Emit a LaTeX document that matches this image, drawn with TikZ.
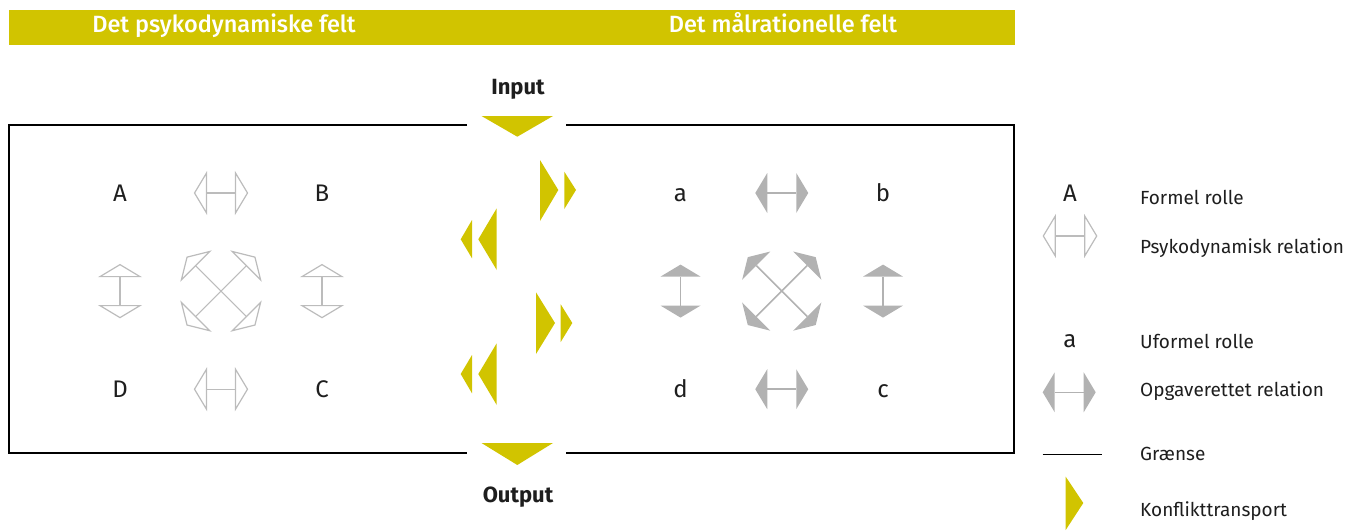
\documentclass[tikz,border=0pt]{standalone}
\usepackage{fontspec}
\setmainfont{Fira Sans}
\newfontfamily\headfont{Fira Sans Medium}
\usetikzlibrary{calc}
\definecolor{kyellow}{RGB}{209,196,0}
\definecolor{lgray}{RGB}{188,188,188}
\definecolor{fgray}{RGB}{178,178,178}
\definecolor{txt}{RGB}{30,30,30}
\tikzset{
  psy/.style={draw=lgray,line width=1.2pt,line join=miter},
  taskline/.style={draw=fgray,line width=1.6pt},
  role/.style={font=\fontsize{24}{28}\selectfont,text=txt,text height=17pt,text depth=0pt,inner sep=0pt},
  legtext/.style={font=\fontsize{19}{23}\selectfont,text=txt,anchor=base west,inner sep=0pt},
  head/.style={font=\headfont\fontsize{23.5}{27}\selectfont,text=white,anchor=base,inner sep=0pt},
  io/.style={font=\bfseries\fontsize{22}{26}\selectfont,text=txt,anchor=base,inner sep=0pt},
  border/.style={draw=black,line width=1.1pt},
  conflict/.style={fill=kyellow}
}
\newcommand{\psyarr}[3]{%
  \begin{scope}[shift={#1},rotate=#2]
    \draw[psy] (-#3+12,0) -- (#3-12,0);
    \draw[psy] (-#3+12,-20) -- (-#3,0) -- (-#3+12,20) -- cycle;
    \draw[psy] (#3-12,-20) -- (#3,0) -- (#3-12,20) -- cycle;
  \end{scope}}
\newcommand{\taskarr}[3]{%
  \begin{scope}[shift={#1},rotate=#2]
    \draw[taskline] (-#3+12,0) -- (#3-12,0);
    \fill[fgray] (-#3+12,-20) -- (-#3,0) -- (-#3+12,20) -- cycle;
    \fill[fgray] (#3-12,-20) -- (#3,0) -- (#3-12,20) -- cycle;
  \end{scope}}
\begin{document}
\begin{tikzpicture}[x=1pt,y=-1pt]
\useasboundingbox (0,0) rectangle (1357,530);
% header bar
\fill[kyellow] (9,10) rectangle (1015,45);
\node[head] (h1) at (224,32.7) {Det psykodynamiske felt};
\node[head] (h2) at (783,32.7) {Det målrationelle felt};
% boundary
\draw[border] (467,125) -- (9,125) -- (9,453) -- (467,453);
\draw[border] (566,125) -- (1014,125) -- (1014,453) -- (566,453);
% input/output
\node[io] (in) at (518,94.3) {Input};
\node[io] (out) at (518,502.5) {Output};
\fill[kyellow] (481.5,116) -- (553,116) -- (517.3,136.7) -- cycle;
\fill[kyellow] (481.5,443) -- (553,443) -- (517.3,465) -- cycle;
% conflict transport
\fill[conflict] (540,160) -- (558.3,190) -- (540,221) -- cycle;
\fill[conflict] (564.3,171.7) -- (576,190) -- (564.3,209) -- cycle;
\fill[conflict] (472,220) -- (460.7,239.3) -- (472,258.3) -- cycle;
\fill[conflict] (496.7,208.3) -- (478.3,239.3) -- (496.7,270) -- cycle;
\fill[conflict] (536,292.3) -- (555,323) -- (536,354) -- cycle;
\fill[conflict] (560.7,304.3) -- (572.3,323) -- (560.7,342) -- cycle;
\fill[conflict] (472,355) -- (460.7,374) -- (472,393.3) -- cycle;
\fill[conflict] (496.7,343.3) -- (478.3,374) -- (496.7,405) -- cycle;
% psychodynamic field
\node[role] (A) at (120,193) {A};
\node[role] (B) at (322,193) {B};
\node[role] (D) at (120,389.2) {D};
\node[role] (C) at (322,389.2) {C};
\psyarr{($(A)!0.5!(B)$)}{0}{26.5}
\psyarr{($(D)!0.5!(C)$)}{0}{26.5}
\psyarr{($(A)!0.5!(D)$)}{90}{26.5}
\psyarr{($(B)!0.5!(C)$)}{90}{26.5}
\psyarr{($(A)!0.5!(C)$)}{45}{48}
\psyarr{($(A)!0.5!(C)$)}{-45}{48}
% goal-rational field
\node[role] (a) at (680.5,193) {a};
\node[role] (b) at (883,193) {b};
\node[role] (d) at (680.5,389.2) {d};
\node[role] (c) at (883,389.2) {c};
\taskarr{($(a)!0.5!(b)$)}{0}{26.5}
\taskarr{($(d)!0.5!(c)$)}{0}{26.5}
\taskarr{($(a)!0.5!(d)$)}{90}{26.5}
\taskarr{($(b)!0.5!(c)$)}{90}{26.5}
\taskarr{($(a)!0.5!(c)$)}{45}{48}
\taskarr{($(a)!0.5!(c)$)}{-45}{48}
% legend
\node[role] (LA) at (1070,193.2) {A};
\node[legtext] (l1) at (1140,204.3) {Formel rolle};
\psyarr{(1070,236)}{0}{26.7}
\node[legtext] (l2) at (1140,253) {Psykodynamisk relation};
\node[role] (La) at (1070,338.5) {a};
\node[legtext] (l3) at (1140,348.3) {Uformel rolle};
\taskarr{(1069.2,392.3)}{0}{26.5}
\node[legtext] (l4) at (1140,396.7) {Opgaverettet relation};
\coordinate (g1) at (1042.7,454);
\coordinate (g2) at (1101.7,454);
\draw[border,line width=1pt] (g1) -- (g2);
\node[legtext] (l5) at (1140,460.7) {Grænse};
\fill[conflict] (1065.7,476.7) -- (1083.3,503) -- (1065.7,530) -- cycle;
\node[legtext] (l6) at (1140,516.7) {Konflikttransport};
\end{tikzpicture}
\end{document}
